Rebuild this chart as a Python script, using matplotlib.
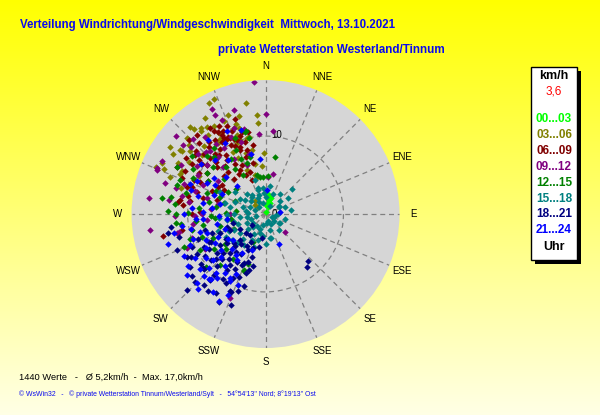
import matplotlib
matplotlib.use("Agg")
import matplotlib.pyplot as plt
import numpy as np
from matplotlib.patches import Rectangle

plt.rcParams['font.family'] = ['Liberation Sans', 'DejaVu Sans']

# wind direction (deg, clockwise from N) and speed (km/h), per 3-hour block
dir_00_03 = [12, 15, 14, 5, 10, 20, 8, 18, 25, 3]
spd_00_03 = [2.4, 1.8, 1.4, 0.3, 2.0, 1.0, 2.6, 2.2, 1.5, 1.1]

dir_03_06 = [336, 339, 336, 340, 319, 320, 323, 326, 330, 307, 303, 293, 313, 355, 355,
             359, 356, 342, 343, 346, 348, 348, 347, 295, 294, 307, 304, 287, 340, 341,
             348, 329, 324, 322, 297, 291, 316, 320, 337, 345, 310, 332, 318, 300, 333,
             330, 326, 318, 312, 300, 296, 314, 345, 350, 338, 334, 310, 305, 328, 342]
spd_03_06 = [16.2, 13.6, 13.0, 11.7, 14.8, 14.3, 13.8, 13.5, 13.1, 13.5, 14.1, 15.3, 11.2, 12.7, 11.7,
             7.8, 6.2, 12.2, 11.5, 10.0, 8.4, 6.6, 4.9, 12.1, 14.3, 13.7, 11.9, 11.3, 10.8, 10.1,
             10.1, 11.3, 12.5, 13.5, 12.1, 13.1, 1.3, 2.1, 6.1, 5.2, 1.8, 9.0, 9.5, 9.8, 16.0,
             12.0, 11.0, 11.8, 13.2, 13.0, 14.8, 14.0, 13.0, 14.5, 9.8, 8.0, 12.6, 15.0, 14.6, 8.2]

dir_06_09 = [327, 330, 331, 332, 333, 336, 338, 344, 345, 344, 348, 342, 325, 320, 315,
             314, 309, 304, 298, 293, 289, 279, 276, 272, 295, 305, 314, 324, 329, 330,
             340, 338, 318, 304, 293, 284, 258, 259, 278, 319, 314, 317, 312, 322, 333,
             337, 326, 310, 300, 288, 334, 339, 329, 336, 342, 320, 312, 300,
             328, 331, 335, 339, 341, 346, 335, 322, 316, 308, 302, 296, 290, 283, 320,
             326, 332, 338, 344, 350, 310, 305, 298, 318, 326, 334, 300, 286, 280, 270]
spd_06_09 = [13.1, 12.2, 11.1, 10.7, 9.9, 9.5, 8.8, 8.5, 7.8, 9.6, 10.8, 10.5, 10.2, 10.1, 10.1,
             11.0, 11.0, 11.4, 11.7, 11.7, 10.7, 11.1, 10.6, 8.4, 10.2, 9.2, 8.7, 8.5, 7.5, 6.5,
             5.8, 4.7, 6.1, 6.7, 7.5, 8.3, 13.4, 10.9, 11.3, 13.4, 13.6, 12.5, 12.0, 11.8, 11.9,
             10.4, 9.1, 9.8, 8.6, 9.2, 11.0, 10.2, 10.8, 12.3, 12.8, 8.0, 7.2, 7.0,
             12.5, 11.6, 10.8, 9.2, 7.7, 6.8, 7.0, 9.6, 9.2, 10.4, 10.0, 9.4, 10.0, 10.2, 11.2,
             11.5, 12.8, 11.5, 11.0, 9.0, 11.8, 12.5, 12.8, 7.2, 6.2, 5.6, 6.2, 6.5, 9.8, 9.5]

dir_09_12 = [355, 0, 5, 333, 333, 335, 343, 311, 310, 316, 297, 293, 278, 262, 282,
             319, 316, 355, 4, 11, 134, 203, 269, 258, 287, 292, 340, 341, 288, 258,
             310, 318, 330, 339, 268, 279, 264, 270, 325, 346, 300, 305, 285, 295, 322, 312,
             320, 328, 305, 296, 282, 275, 262, 252, 247, 290, 300, 312, 336, 345, 240,
             270, 278, 286]
spd_09_12 = [17.0, 12.9, 10.7, 15.2, 14.2, 13.3, 14.0, 15.3, 13.8, 13.4, 14.9, 15.2, 15.1, 15.0, 11.0,
             10.8, 11.0, 10.3, 4.8, 5.2, 3.4, 11.7, 11.6, 11.6, 13.5, 15.0, 11.7, 9.8, 9.5, 11.4,
             9.8, 8.1, 8.2, 6.7, 9.0, 9.9, 7.6, 4.6, 11.0, 11.3, 12.5, 10.8, 7.8, 8.8, 12.6, 12.8,
             9.5, 10.0, 7.5, 6.5, 6.2, 7.0, 9.4, 9.9, 11.0, 11.2, 10.0, 11.6, 10.8, 8.0, 9.0,
             8.2, 12.5, 12.0]

dir_12_15 = [279, 276, 264, 271, 241, 9, 356, 347, 348, 345, 204, 199, 201, 4, 346,
             298, 263, 270, 300, 305, 290, 282, 296, 310, 320, 285, 275, 268, 260, 318,
             326, 330, 300, 290, 272, 255, 250, 234, 222, 201, 347, 352, 315, 335, 340,
             308, 288, 245, 228,
             295, 285, 278, 265, 258, 252, 248, 280, 292, 302, 312, 322, 328, 336, 338,
             310, 293, 276, 262, 245, 236, 228, 216, 264, 272]
spd_12_15 = [13.5, 11.7, 11.5, 10.0, 9.6, 7.4, 4.8, 10.9, 10.0, 7.6, 4.0, 6.8, 7.7, 4.9, 10.9,
             12.8, 10.9, 11.5, 8.5, 9.2, 8.0, 7.4, 10.4, 7.0, 7.8, 10.6, 8.6, 7.0, 8.2, 9.8,
             7.0, 5.8, 5.6, 6.2, 5.1, 6.0, 8.7, 6.5, 8.8, 7.8, 5.1, 4.8, 10.6, 9.0, 7.0,
             12.0, 11.9, 7.4, 10.2,
             7.0, 5.5, 6.4, 6.5, 9.6, 10.2, 11.3, 12.3, 11.8, 11.0, 9.0, 10.8, 8.3, 7.8, 10.5,
             5.0, 4.2, 3.8, 4.5, 4.5, 8.0, 6.8, 7.2, 9.0, 12.5]

dir_15_18 = [47, 345, 60, 47, 121, 164, 191, 169, 343, 355, 321, 288, 264, 244, 224,
             196, 173, 114, 62, 123, 282, 261, 243, 233, 208, 186, 167, 296, 306, 343,
             300, 275, 250, 230, 215, 200, 180, 150, 90, 30, 330, 310, 290, 255, 270,
             225, 240, 318, 335, 105, 140, 80, 250, 265, 215,
             250, 262, 280, 295, 315, 345, 0, 20, 70, 100, 130, 160, 200, 235, 210,
             195, 222, 232, 245, 256, 268, 285, 292, 305, 325, 340, 355, 10, 35, 55]
spd_15_18 = [4.7, 3.5, 2.0, 2.5, 2.2, 2.1, 1.4, 3.1, 3.2, 3.4, 2.8, 3.0, 3.3, 2.7, 2.3,
             2.6, 1.2, 0.9, 2.0, 2.0, 4.6, 5.0, 4.6, 4.1, 3.8, 2.9, 3.1, 6.5, 4.8, 4.6,
             3.8, 2.2, 3.8, 3.0, 1.8, 4.5, 3.8, 1.5, 1.6, 1.2, 1.8, 2.5, 1.5, 1.2, 4.0,
             5.2, 5.8, 3.5, 2.3, 2.6, 2.6, 3.3, 6.5, 6.0, 4.8,
             2.0, 2.4, 2.5, 2.2, 1.2, 1.5, 2.2, 2.8, 2.6, 1.2, 1.4, 1.0, 2.0, 2.0, 3.0,
             3.5, 4.4, 5.4, 5.2, 4.2, 5.0, 5.4, 4.2, 3.2, 3.0, 2.6, 2.7, 3.6, 3.2, 3.5]

dir_18_21 = [259, 248, 241, 229, 244, 250, 201, 208, 217, 205, 205, 215, 228, 226, 188,
             200, 138, 142, 242, 243, 231, 224, 222, 223, 224, 210, 198, 204, 209, 215,
             223, 230, 235, 247, 252, 254, 231, 203, 198, 193, 192, 216, 210, 220, 235,
             212, 218, 236, 228, 240, 226, 200,
             238, 233, 227, 219, 212, 206, 200, 196, 207, 213, 220, 232, 240, 246, 250,
             255, 238, 245, 228, 219, 211, 204, 197, 221, 230, 208, 225, 240, 255, 262]
spd_18_21 = [12.8, 12.2, 11.5, 10.6, 8.1, 7.3, 12.5, 12.8, 12.3, 10.9, 7.2, 8.0, 10.6, 14.0, 3.1,
             4.7, 8.1, 8.6, 9.0, 7.8, 8.0, 8.1, 6.8, 5.7, 4.7, 4.8, 5.8, 6.9, 8.0, 8.7,
             9.2, 9.2, 9.5, 6.3, 5.2, 4.3, 2.3, 8.8, 8.0, 6.9, 4.3, 3.4, 10.2, 11.0, 11.8,
             12.0, 6.2, 7.0, 7.4, 10.2, 12.6, 10.5,
             8.5, 6.2, 5.5, 5.0, 6.0, 5.2, 6.5, 7.5, 9.2, 10.0, 10.3, 10.5, 11.0, 10.4, 9.2,
             8.0, 6.0, 5.0, 8.6, 7.5, 7.2, 11.0, 9.6, 12.0, 12.4, 4.0, 3.5, 3.8, 11.5, 12.2]

dir_21_24 = [253, 259, 238, 292, 225, 225, 221, 208, 201, 208, 4, 81, 155, 344, 346,
             220, 226, 209, 251, 255, 252, 265, 272, 259, 276, 283, 295, 322, 317, 313,
             314, 354, 298, 296, 288, 262, 246, 229, 231, 231, 211, 201, 212, 220, 240,
             270, 280, 236, 217, 205,
             300, 290, 285, 305, 308, 268, 262, 250, 244, 240, 234, 226, 218, 214, 206,
             215, 224, 236, 248, 243, 232, 222, 214, 230, 258, 266, 275, 330, 325, 335]
spd_21_24 = [13.1, 9.8, 10.7, 10.4, 12.5, 11.2, 11.1, 9.8, 9.7, 12.6, 3.1, 1.9, 4.2, 11.2, 7.9,
             10.9, 10.0, 9.4, 9.8, 8.7, 7.9, 8.0, 8.0, 6.4, 6.9, 6.0, 6.2, 12.0, 9.5, 7.0,
             5.1, 7.1, 8.5, 9.8, 10.0, 10.8, 8.3, 8.9, 7.3, 5.3, 5.9, 4.9, 7.0, 9.8, 8.8,
             10.5, 8.2, 12.0, 10.3, 11.4,
             7.5, 7.0, 9.0, 8.0, 10.5, 6.0, 5.0, 5.5, 6.8, 7.5, 9.5, 8.0, 8.5, 9.2, 8.5,
             6.5, 6.2, 5.8, 10.5, 11.8, 12.8, 13.0, 12.0, 11.0, 12.0, 9.0, 9.5, 10.5, 8.5, 11.8]

series = [
    ('00...03', '#00FF00', dir_00_03, spd_00_03),
    ('03...06', '#808000', dir_03_06, spd_03_06),
    ('06...09', '#800000', dir_06_09, spd_06_09),
    ('09...12', '#800080', dir_09_12, spd_09_12),
    ('12...15', '#008000', dir_12_15, spd_12_15),
    ('15...18', '#008080', dir_15_18, spd_15_18),
    ('18...21', '#000080', dir_18_21, spd_18_21),
    ('21...24', '#0000FF', dir_21_24, spd_21_24),
]

compass = ['N', 'NNE', 'NE', 'ENE', 'E', 'ESE', 'SE', 'SSE',
           'S', 'SSW', 'SW', 'WSW', 'W', 'WNW', 'NW', 'NNW']
rmax = 17.2

fig = plt.figure(figsize=(6, 4.15), dpi=100)

# yellow gradient background
bg = fig.add_axes([0, 0, 1, 1], zorder=0)
grad = np.zeros((256, 1, 3))
grad[:, 0, 0] = 1.0
grad[:, 0, 1] = 1.0
grad[:, 0, 2] = np.linspace(0.0, 0.9, 256)
bg.imshow(grad, aspect='auto', extent=[0, 1, 0, 1])
bg.set_axis_off()

ax = fig.add_axes([0.2192, 0.1614, 0.4467, 0.6458], projection='polar', zorder=1)
ax.set_facecolor('#D6D6D6')
ax.set_theta_zero_location('N')
ax.set_theta_direction(-1)
ax.set_ylim(0, rmax)
ax.spines['polar'].set_visible(False)
ax.set_xticks(np.radians(np.arange(0, 360, 22.5)))
ax.set_xticklabels([])
ax.set_yticks([10])
ax.set_yticklabels([])
ax.grid(True, color='#808080', linestyle=(0, (4, 3)), linewidth=0.9)

for i, name in enumerate(compass):
    ax.text(np.radians(i * 22.5), rmax * 1.105, name, ha='center', va='center', fontsize=7)
ax.text(np.radians(8), 10.2, '10', ha='center', va='center', fontsize=7, zorder=2)
ax.text(np.radians(90), 1.1, '0', ha='center', va='center', fontsize=7, zorder=2)

for label, color, d, s in series:
    ax.plot(np.radians(d), s, linestyle='none', marker='D', ms=3.3, mec='none',
            color=color, zorder=3)

# titles
blue = '#0A0AEE'
t1 = fig.text(20 / 600, 1 - 25 / 415, 'Verteilung Windrichtung/Windgeschwindigkeit  Mittwoch, 13.10.2021',
              color=blue, fontweight='bold', fontsize=9, ha='left', va='center')
t2 = fig.text(218 / 600, 1 - 50 / 415, 'private Wetterstation Westerland/Tinnum',
              color=blue, fontweight='bold', fontsize=9, ha='left', va='center')
t3 = fig.text(19 / 600, 1 - 377 / 415, '1440 Werte   -   \u00d8 5,2km/h  -  Max. 17,0km/h',
              color='black', fontsize=7, ha='left', va='center')
t4 = fig.text(19 / 600, 1 - 394 / 415,
              '\u00a9 WsWin32   -   \u00a9 private Wetterstation Tinnum/Westerland/Sylt   -   '
              "54\u00b054'13'' Nord; 8\u00b019'13'' Ost",
              color=blue, fontsize=5, ha='left', va='center')

fig.canvas.draw()
for t, w in [(t1, 375), (t2, 225), (t3, 183), (t4, 304)]:
    cur = t.get_window_extent().width
    t.set_fontsize(t.get_fontsize() * w / cur)

# legend box with shadow
fig.patches.append(Rectangle((535 / 600, 1 - 264 / 415), 46 / 600, 193 / 415,
                             transform=fig.transFigure, facecolor='black', edgecolor='none', zorder=2))
fig.patches.append(Rectangle((531 / 600, 1 - 260 / 415), 46 / 600, 193 / 415,
                             transform=fig.transFigure, facecolor='white', edgecolor='black',
                             linewidth=1, zorder=3))
lx = 554 / 600
fig.text(lx, 1 - 76 / 415, 'km/h', ha='center', va='center', fontsize=9, fontweight='bold', zorder=4)
fig.text(lx, 1 - 92 / 415, '3,6', ha='center', va='center', fontsize=8.5, color='#FF0000', zorder=4)
for i, (label, color, d, s) in enumerate(series):
    fig.text(lx, 1 - (119 + 15.9 * i) / 415, label, ha='center', va='center', fontsize=8.5,
             fontweight='bold', color=color, zorder=4)
fig.text(lx, 1 - 247 / 415, 'Uhr', ha='center', va='center', fontsize=9, fontweight='bold', zorder=4)

fig.savefig('out.png', dpi=100)
